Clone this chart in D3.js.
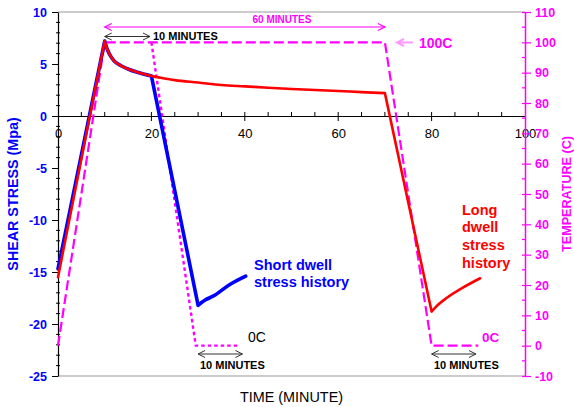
<!DOCTYPE html>
<html>
<head>
<meta charset="utf-8">
<script src="https://cdn.jsdelivr.net/npm/d3@7"></script>
<style>
  html, body { margin: 0; padding: 0; background: #fff; }
  svg { display: block; font-family: "Liberation Sans", Arial, sans-serif; }
</style>
</head>
<body>
<svg id="chart" width="574" height="407"></svg>
<script>
// ---- data ----
// Shear stress (MPa) vs time (minutes), long dwell cycle
const longTime   = [0, 10, 10.4, 10.7, 11.2, 12, 13.5, 15, 17, 20, 22, 25, 30, 35, 40, 45, 50, 55, 60, 65, 70, 80, 81.5, 83.2, 86.7, 90.4];
const longStress = [-15.5, 7.2, 6.6, 6.25, 5.8, 5.3, 4.83, 4.52, 4.2, 3.85, 3.68, 3.45, 3.22, 2.98, 2.85, 2.72, 2.6, 2.5, 2.4, 2.3, 2.2, -18.8, -18.1, -17.5, -16.5, -15.6];
const longCorners = [10, 70, 80];

// Shear stress (MPa) vs time (minutes), short dwell cycle
const shortTime   = [0, 10, 10.4, 10.7, 11.2, 12, 13.5, 15, 17, 20, 30, 31.5, 33.3, 36.8, 40.2];
const shortStress = [-14.7, 7.2, 6.6, 6.25, 5.8, 5.3, 4.83, 4.52, 4.2, 3.85, -18.2, -17.7, -17.3, -16.2, -15.4];
const shortCorners = [10, 20, 30];

// Temperature profiles (C); the short dwell profile follows the long one until t = 20
const longTempTime  = [0, 10, 70, 80, 90];
const longTemp      = [0, 100, 100, 0, 0];
const shortTempTime = [20, 29.5, 39];
const shortTemp     = [100, 0, 0];

// Axis ticks
const xTicks      = [0, 20, 40, 60, 80, 100];
const stressTicks = [-25, -20, -15, -10, -5, 0, 5, 10];
const tempTicks   = [-10, 0, 10, 20, 30, 40, 50, 60, 70, 80, 90, 100, 110];

// ---- layout ----
const plotLeft = 58, plotRight = 525, plotTop = 12, plotBottom = 376;
const BLUE = "#0000ff", RED = "#ff0000", MAG = "#ff00ff";
const plain = d => String(d);

const svg = d3.select("#chart");
const x  = d3.scaleLinear().domain([0, 100]).range([plotLeft, plotRight]);
const yL = d3.scaleLinear().domain([-25, 10]).range([plotBottom, plotTop]);
const yR = d3.scaleLinear().domain([-10, 110]).range([plotBottom, plotTop]);

// frame lines (top and bottom)
svg.append("line").attr("x1", plotLeft).attr("x2", plotRight).attr("y1", plotTop).attr("y2", plotTop)
  .attr("stroke", "#999").attr("stroke-width", 1.2);
svg.append("line").attr("x1", plotLeft).attr("x2", plotRight).attr("y1", plotBottom).attr("y2", plotBottom)
  .attr("stroke", "#999").attr("stroke-width", 1.2);

// ---- x axis along stress = 0 ----
const gx = svg.append("g").attr("transform", `translate(0,${yL(0)})`)
  .call(d3.axisBottom(x).tickValues(xTicks).tickFormat(plain).tickSize(0).tickSizeOuter(0).tickPadding(13));
gx.select(".domain").attr("stroke", "#000").attr("stroke-width", 1.2);
gx.selectAll("text").attr("font-size", 13).attr("fill", "#000")
  .attr("font-family", "Liberation Sans, Arial, sans-serif");
d3.range(5, 100, 5).forEach(t => {
  const major = t % 20 === 0;
  gx.append("line").attr("x1", x(t)).attr("x2", x(t))
    .attr("y1", -4).attr("y2", major ? 5 : 0).attr("stroke", "#000").attr("stroke-width", 1);
});

// ---- left stress axis ----
const gl = svg.append("g").attr("transform", `translate(${plotLeft},0)`)
  .call(d3.axisLeft(yL).tickValues(stressTicks).tickFormat(plain).tickSize(6).tickSizeOuter(0).tickPadding(5));
gl.select(".domain").attr("stroke", "#000").attr("stroke-width", 1.2);
gl.selectAll(".tick line").attr("stroke", "#000");
gl.selectAll("text").attr("font-size", 12.5).attr("font-weight", "bold").attr("fill", BLUE)
  .attr("font-family", "Liberation Sans, Arial, sans-serif");
d3.range(-24, 10, 1).filter(v => v % 5 !== 0).forEach(v => {
  gl.append("line").attr("x1", -2).attr("x2", 2).attr("y1", yL(v)).attr("y2", yL(v))
    .attr("stroke", "#000").attr("stroke-width", 1);
});

// ---- right temperature axis ----
const gr = svg.append("g").attr("transform", `translate(${plotRight},0)`)
  .call(d3.axisRight(yR).tickValues(tempTicks).tickFormat(plain).tickSize(6).tickSizeOuter(0).tickPadding(4));
gr.select(".domain").attr("stroke", MAG).attr("stroke-width", 1.5);
gr.selectAll(".tick line").attr("stroke", MAG).attr("x1", -3).attr("stroke-width", 1.2);
gr.selectAll("text").attr("font-size", 12.5).attr("font-weight", "bold").attr("fill", MAG)
  .attr("font-family", "Liberation Sans, Arial, sans-serif");
d3.range(-5, 110, 10).forEach(v => {
  gr.append("line").attr("x1", -3).attr("x2", 1).attr("y1", yR(v)).attr("y2", yR(v))
    .attr("stroke", MAG).attr("stroke-width", 1.2);
});

// ---- axis titles ----
svg.append("text").attr("transform", `translate(12.5,${(plotTop + plotBottom) / 2}) rotate(-90)`)
  .attr("text-anchor", "middle").attr("dominant-baseline", "central")
  .attr("font-size", 14.3).attr("font-weight", "bold").attr("fill", BLUE)
  .text("SHEAR STRESS (Mpa)");
svg.append("text").attr("transform", `translate(566.5,${(plotTop + plotBottom) / 2}) rotate(-90)`)
  .attr("text-anchor", "middle").attr("dominant-baseline", "central")
  .attr("font-size", 12.6).attr("font-weight", "bold").attr("fill", MAG)
  .text("TEMPERATURE (C)");
svg.append("text").attr("x", 291.5).attr("y", 396.5)
  .attr("text-anchor", "middle").attr("dominant-baseline", "central")
  .attr("font-size", 14.4).attr("fill", "#000")
  .text("TIME (MINUTE)");

// ---- temperature lines ----
function pts(ts, vs) { return ts.map((t, i) => [t, vs[i]]); }
const tempLine = d3.line().x(d => x(d[0])).y(d => yR(d[1]));

svg.append("path").attr("d", tempLine(pts(shortTempTime, shortTemp)))
  .attr("fill", "none").attr("stroke", MAG).attr("stroke-width", 2.4)
  .attr("stroke-dasharray", "3.5,3");
svg.append("path").attr("d", tempLine(pts(longTempTime, longTemp)))
  .attr("fill", "none").attr("stroke", MAG).attr("stroke-width", 2.2)
  .attr("stroke-dasharray", "10,4");

// ---- stress lines: smooth pieces joined at sharp corners ----
function stressPath(ts, vs, corners) {
  const data = pts(ts, vs);
  const line = d3.line().x(d => x(d[0])).y(d => yL(d[1])).curve(d3.curveMonotoneX);
  const pieces = [];
  let cur = [];
  data.forEach(d => {
    cur.push(d);
    if (corners.includes(d[0])) { pieces.push(cur); cur = [d]; }
  });
  if (cur.length > 1) pieces.push(cur);
  return pieces.map(p => line(p)).join("");
}

svg.append("path").attr("d", stressPath(shortTime, shortStress, shortCorners))
  .attr("fill", "none").attr("stroke", BLUE).attr("stroke-width", 3.6)
  .attr("stroke-linejoin", "round").attr("stroke-linecap", "round");
svg.append("path").attr("d", stressPath(longTime, longStress, longCorners))
  .attr("fill", "none").attr("stroke", RED).attr("stroke-width", 2.6)
  .attr("stroke-linejoin", "round").attr("stroke-linecap", "round");

// ---- annotations ----
function chevron(g, xTip, y, dir, color, w) {
  g.append("path")
    .attr("d", `M${xTip + dir * 7},${y - 3.5}L${xTip},${y}L${xTip + dir * 7},${y + 3.5}`)
    .attr("fill", "none").attr("stroke", color).attr("stroke-width", w);
}
function spanArrow(x1, x2, y, color, w) {
  const g = svg.append("g");
  g.append("line").attr("x1", x1).attr("x2", x2).attr("y1", y).attr("y2", y)
    .attr("stroke", color).attr("stroke-width", w);
  chevron(g, x1, y, 1, color, w);
  chevron(g, x2, y, -1, color, w);
}
function label(txt, xp, yp, size, color, weight, anchor) {
  svg.append("text").attr("x", xp).attr("y", yp)
    .attr("text-anchor", anchor || "start").attr("dominant-baseline", "central")
    .attr("font-size", size).attr("font-weight", weight).attr("fill", color).text(txt);
}

// 60 minute hold
spanArrow(x(10), x(70), 27, MAG, 1.2);
label("60 MINUTES", 282, 19, 10, MAG, "bold", "middle");

// 10 minute hold (top)
spanArrow(x(10), x(19.7), 36.5, "#333", 1);
label("10 MINUTES", 153, 36, 11, "#000", "bold");

// 100C marker
{
  const g = svg.append("g");
  g.append("line").attr("x1", 397).attr("x2", 413).attr("y1", 42.5).attr("y2", 42.5)
    .attr("stroke", "#ff99ff").attr("stroke-width", 2);
  chevron(g, 397, 42.5, 1, "#ff99ff", 2);
}
label("100C", 419, 42.5, 14, MAG, "bold");

// bottom 10 minute holds
spanArrow(x(30), x(39.5), 354, "#333", 1);
label("10 MINUTES", 200, 365, 11, "#000", "bold");
spanArrow(x(80), x(89.5), 354, "#333", 1);
label("10 MINUTES", 434, 365, 11, "#000", "bold");

label("0C", 248, 337, 14, "#000", "normal");
label("0C", 482, 337, 13.5, MAG, "bold");

// series captions
[["Short dwell", 265], ["stress history", 282]].forEach(([t, yy]) =>
  label(t, 254, yy, 14.5, BLUE, "bold"));
[["Long", 209.5], ["dwell", 227], ["stress", 244.5], ["history", 262.5]].forEach(([t, yy]) =>
  label(t, 462, yy, 14.5, RED, "bold"));
</script>
</body>
</html>
